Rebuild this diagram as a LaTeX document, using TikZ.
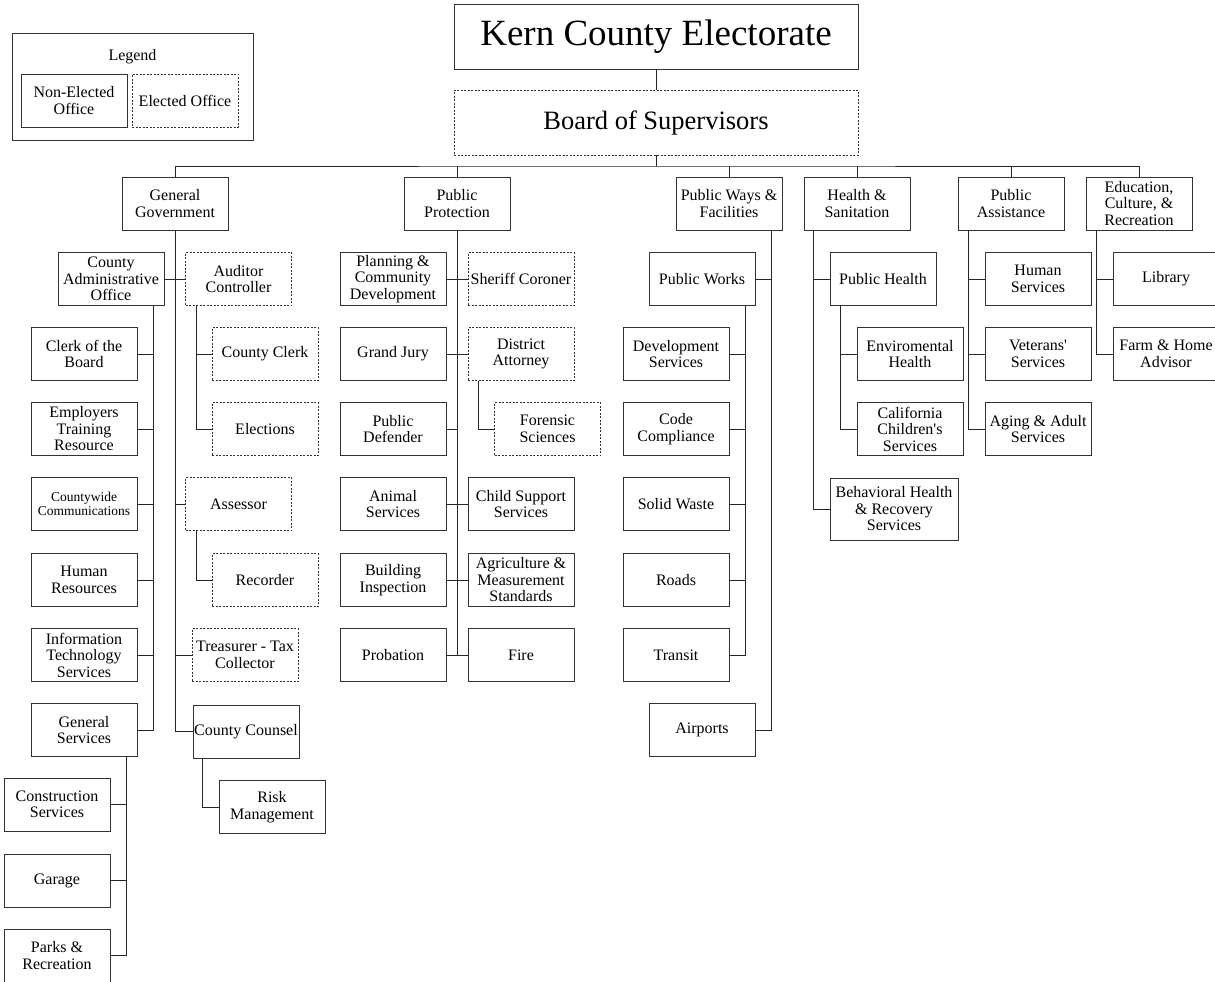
\documentclass[tikz,border=0pt]{standalone}
\usepackage{fontspec}
\setmainfont{Liberation Serif}[Ligatures=TeXOff]
\begin{document}
\begin{tikzpicture}[x=1pt,y=-1pt,
  office/.style={draw=black!80,line width=0.8pt,minimum width=106,minimum height=53,inner sep=1pt,align=center,font=\fontsize{16}{16.5}\selectfont},
  elected/.style={office,dash pattern=on 2pt off 1.5pt},
  link/.style={draw=black!85,line width=1pt}]
\useasboundingbox (0,0) rectangle (1215,982);

\node[draw=black!80,line width=0.8pt,minimum width=241,minimum height=107] (legend) at (132.5,86.5) {};
\node[font=\fontsize{16}{16.5}\selectfont] (legendtitle) at (132.5,57) {Legend};
\node[office]  (nonelected) at (74,100.5)  {Non-Elected\\Office};
\node[elected] (elected)    at (185,100.5) {Elected Office};

\node[office,minimum width=404,minimum height=65,font=\fontsize{37}{40}\selectfont] (electorate) at (656,36.5) {Kern County Electorate};
\node[elected,minimum width=404,minimum height=65,font=\fontsize{26.5}{30}\selectfont] (board) at (656,122.5) {Board of Supervisors};
\coordinate (bus) at (656,166);

\node[office] (gengov)    at (175,203.5)  {General\\Government};
\node[office] (pubprot)   at (457,203.5)  {Public\\Protection};
\node[office] (pubways)   at (729,203.5)  {Public Ways \&\\Facilities};
\node[office] (health)    at (857,203.5)  {Health \&\\Sanitation};
\node[office] (pubassist) at (1011,203.5) {Public\\Assistance};
\node[office] (educ)      at (1139,203.5) {Education,\\Culture, \&\\Recreation};

\node[office]  (cao)          at (111,279)   {County\\Administrative\\Office};
\node[office]  (clerkboard)   at (84,354)    {Clerk of the\\Board};
\node[office]  (employers)    at (84,429)    {Employers\\Training\\Resource};
\node[office,font=\fontsize{13.5}{13.5}\selectfont] (countywide) at (84,504) {Countywide\\Communications};
\node[office]  (humanres)     at (84,580)    {Human\\Resources};
\node[office]  (infotech)     at (84,655)    {Information\\Technology\\Services};
\node[office]  (gensvcs)      at (84,730)    {General\\Services};
\node[office]  (construction) at (57,804.5)  {Construction\\Services};
\node[office]  (garage)       at (57,880.5)  {Garage};
\node[office]  (parks)        at (57,955.5)  {Parks \&\\Recreation};
\node[elected] (auditor)      at (238.5,279) {Auditor\\Controller};
\node[elected] (countyclerk)  at (265,354)   {County Clerk};
\node[elected] (elections)    at (265,429)   {Elections};
\node[elected] (assessor)     at (238.5,504) {Assessor};
\node[elected] (recorder)     at (265,580)   {Recorder};
\node[elected] (treasurer)    at (245,655)   {Treasurer - Tax\\Collector};
\node[office]  (counsel)      at (246,731.5) {County Counsel};
\node[office]  (risk)         at (272,807)   {Risk\\Management};

\node[office]  (planning)     at (393,279)   {Planning \&\\Community\\Development};
\node[office]  (grandjury)    at (393,354)   {Grand Jury};
\node[office]  (defender)     at (393,429)   {Public\\Defender};
\node[office]  (animal)       at (393,504)   {Animal\\Services};
\node[office]  (building)     at (393,580)   {Building\\Inspection};
\node[office]  (probation)    at (393,655)   {Probation};
\node[elected] (sheriff)      at (521,279)   {Sheriff Coroner};
\node[elected] (da)           at (521,354)   {District\\Attorney};
\node[elected] (forensic)     at (547.5,429) {Forensic\\Sciences};
\node[office]  (childsupport) at (521,504)   {Child Support\\Services};
\node[office]  (agriculture)  at (521,580)   {Agriculture \&\\Measurement\\Standards};
\node[office]  (fire)         at (521,655)   {Fire};

\node[office] (pubworks)   at (702,279) {Public Works};
\node[office] (devsvcs)    at (676,354) {Development\\Services};
\node[office] (codecomp)   at (676,429) {Code\\Compliance};
\node[office] (solidwaste) at (676,504) {Solid Waste};
\node[office] (roads)      at (676,580) {Roads};
\node[office] (transit)    at (676,655) {Transit};
\node[office] (airports)   at (702,730) {Airports};

\node[office] (pubhealth)  at (883,279) {Public Health};
\node[office] (envhealth)  at (910,354) {Enviromental\\Health};
\node[office] (california) at (910,429) {California\\Children's\\Services};
\node[office,minimum width=128,minimum height=62] (behavioral) at (894,509) {Behavioral Health\\\& Recovery\\Services};

\node[office] (humansvcs) at (1038,279) {Human\\Services};
\node[office] (veterans)  at (1038,354) {Veterans'\\Services};
\node[office] (aging)     at (1038,429) {Aging \& Adult\\Services};

\node[office] (library) at (1166,279) {Library};
\node[office] (farm)    at (1166,354) {Farm \& Home\\Advisor};

\draw[link] (electorate) -- (board);
\draw[link] (board.south) -- (bus);
\draw[link] (gengov.north) |- (bus) -| (educ.north);
\draw[link] (pubprot.north) -- (pubprot.north |- bus);
\draw[link] (pubways.north) -- (pubways.north |- bus);
\draw[link] (health.north) -- (health.north |- bus);
\draw[link] (pubassist.north) -- (pubassist.north |- bus);

\draw[link] (gengov.south) |- (counsel.west);
\draw[link] (cao.east) -- (cao.east -| gengov.south);
\draw[link] (auditor.west) -- (auditor.west -| gengov.south);
\draw[link] (assessor.west) -- (assessor.west -| gengov.south);
\draw[link] (treasurer.west) -- (treasurer.west -| gengov.south);
\coordinate (caotop) at ([xshift=-11]cao.south east);
\draw[link] (caotop) |- (gensvcs.east);
\draw[link] (clerkboard.east) -- (clerkboard.east -| caotop);
\draw[link] (employers.east) -- (employers.east -| caotop);
\draw[link] (countywide.east) -- (countywide.east -| caotop);
\draw[link] (humanres.east) -- (humanres.east -| caotop);
\draw[link] (infotech.east) -- (infotech.east -| caotop);
\coordinate (gensvcstop) at ([xshift=-11]gensvcs.south east);
\draw[link] (gensvcstop) |- (parks.east);
\draw[link] (construction.east) -- (construction.east -| gensvcstop);
\draw[link] (garage.east) -- (garage.east -| gensvcstop);
\coordinate (auditortop) at ([xshift=11]auditor.south west);
\draw[link] (auditortop) |- (elections.west);
\draw[link] (countyclerk.west) -- (countyclerk.west -| auditortop);
\draw[link] ([xshift=11]assessor.south west) |- (recorder.west);
\draw[link] ([xshift=10]counsel.south west) |- (risk.west);

\draw[link] (pubprot.south) -- (pubprot.south |- fire.west);
\draw[link] (planning.east) -- (planning.east -| pubprot.south);
\draw[link] (grandjury.east) -- (grandjury.east -| pubprot.south);
\draw[link] (defender.east) -- (defender.east -| pubprot.south);
\draw[link] (animal.east) -- (animal.east -| pubprot.south);
\draw[link] (building.east) -- (building.east -| pubprot.south);
\draw[link] (probation.east) -- (probation.east -| pubprot.south);
\draw[link] (sheriff.west) -- (sheriff.west -| pubprot.south);
\draw[link] (da.west) -- (da.west -| pubprot.south);
\draw[link] (childsupport.west) -- (childsupport.west -| pubprot.south);
\draw[link] (agriculture.west) -- (agriculture.west -| pubprot.south);
\draw[link] (fire.west) -- (fire.west -| pubprot.south);
\draw[link] ([xshift=11]da.south west) |- (forensic.west);

\coordinate (pubwaystop) at ([xshift=-11]pubways.south east);
\draw[link] (pubwaystop) |- (airports.east);
\draw[link] (pubworks.east) -- (pubworks.east -| pubwaystop);
\coordinate (pubworkstop) at ([xshift=-10]pubworks.south east);
\draw[link] (pubworkstop) |- (transit.east);
\draw[link] (devsvcs.east) -- (devsvcs.east -| pubworkstop);
\draw[link] (codecomp.east) -- (codecomp.east -| pubworkstop);
\draw[link] (solidwaste.east) -- (solidwaste.east -| pubworkstop);
\draw[link] (roads.east) -- (roads.east -| pubworkstop);

\coordinate (healthtop) at ([xshift=10]health.south west);
\draw[link] (healthtop) |- (behavioral.west);
\draw[link] (pubhealth.west) -- (pubhealth.west -| healthtop);
\coordinate (pubhealthtop) at ([xshift=11]pubhealth.south west);
\draw[link] (pubhealthtop) |- (california.west);
\draw[link] (envhealth.west) -- (envhealth.west -| pubhealthtop);

\coordinate (pubassisttop) at ([xshift=11]pubassist.south west);
\draw[link] (pubassisttop) |- (aging.west);
\draw[link] (humansvcs.west) -- (humansvcs.west -| pubassisttop);
\draw[link] (veterans.west) -- (veterans.west -| pubassisttop);

\coordinate (eductop) at ([xshift=11]educ.south west);
\draw[link] (eductop) |- (farm.west);
\draw[link] (library.west) -- (library.west -| eductop);

\end{tikzpicture}
\end{document}
